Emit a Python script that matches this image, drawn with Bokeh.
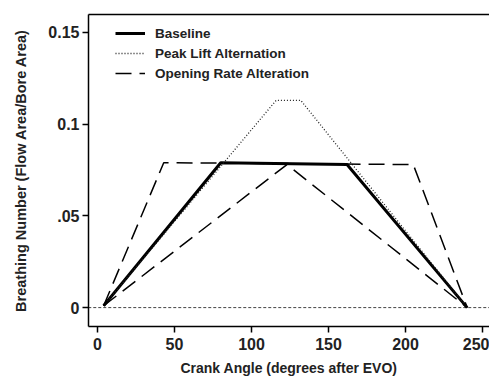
from bokeh.plotting import figure
from bokeh.models import Range1d, FixedTicker, Legend, LegendItem, LinearAxis
from bokeh.embed import file_html
from bokeh.resources import INLINE

# Data (crank angle in degrees after EVO, breathing number)
baseline_x = [4, 80, 162, 240]
baseline_y = [0.001, 0.079, 0.078, 0.0]

peak_x = [4, 116, 132, 240]
peak_y = [0.001, 0.113, 0.113, 0.0]

fast_x = [4, 43, 205, 240]
fast_y = [0.001, 0.079, 0.078, 0.0]

slow_x = [4, 123, 240]
slow_y = [0.001, 0.078, 0.0]

zero_x = [-6, 256]
zero_y = [0.0, 0.0]

x_ticks = [0, 50, 100, 150, 200, 250]
y_ticks = [0.0, 0.05, 0.1, 0.15]
y_tick_labels = {0.0: "0", 0.05: ".05", 0.1: "0.1", 0.15: "0.15"}

FONT = "Liberation Sans"

p = figure(width=489, height=379, output_backend="svg", toolbar_location=None,
           x_range=Range1d(-5.84, 254.5), y_range=Range1d(-0.0103, 0.1598),
           min_border_left=88, min_border_right=0, min_border_top=14, min_border_bottom=53)

p.xgrid.visible = False
p.ygrid.visible = False
p.outline_line_color = None

for ax in (p.xaxis, p.yaxis):
    ax.axis_line_color = "black"
    ax.axis_line_width = 1.5
    ax.major_tick_line_color = "black"
    ax.major_tick_line_width = 1.5
    ax.major_tick_out = 6
    ax.major_tick_in = 0
    ax.minor_tick_line_color = None
    ax.major_label_text_font = FONT
    ax.major_label_text_font_style = "bold"
    ax.major_label_text_font_size = "16px"
    ax.major_label_text_color = "#222222"
    ax.axis_label_text_font = FONT
    ax.axis_label_text_font_style = "bold"
    ax.axis_label_text_color = "#222222"

# top border of the frame as a bare axis line
top = LinearAxis(ticker=FixedTicker(ticks=[]), axis_line_color="black", axis_line_width=1.5,
                 major_tick_line_color=None, minor_tick_line_color=None,
                 major_label_text_font_size="0px", major_label_standoff=0)
p.add_layout(top, "above")

xax = p.below[0]
xax.axis_label_text_font_size = "14px"
p.yaxis.axis_label_text_font_size = "14.5px"

xax.ticker = FixedTicker(ticks=x_ticks)
p.yaxis.ticker = FixedTicker(ticks=y_ticks)
p.yaxis.major_label_overrides = y_tick_labels
xax.axis_label = "Crank Angle (degrees after EVO)"
p.yaxis.axis_label = "Breathing Number (Flow Area/Bore Area)"
xax.major_label_standoff = 5
xax.axis_label_standoff = 7
p.yaxis.major_label_standoff = 3
p.yaxis.axis_label_standoff = 16

p.line(zero_x, zero_y, line_color="#444444", line_width=1, line_dash="3 2")

r_base = p.line(baseline_x, baseline_y, line_color="black", line_width=3)
r_peak = p.line(peak_x, peak_y, line_color="#222222", line_width=1.3, line_dash="1 2")
r_fast = p.line(fast_x, fast_y, line_color="black", line_width=1.5, line_dash="16 8")
r_slow = p.line(slow_x, slow_y, line_color="black", line_width=1.5, line_dash="16 8")

legend = Legend(items=[
    LegendItem(label="Baseline", renderers=[r_base]),
    LegendItem(label="Peak Lift Alternation", renderers=[r_peak]),
    LegendItem(label="Opening Rate Alteration", renderers=[r_fast]),
], location=(27, 243))
legend.background_fill_alpha = 0
legend.border_line_color = None
legend.label_text_font = FONT
legend.label_text_font_style = "bold"
legend.label_text_font_size = "13.5px"
legend.label_text_color = "#222222"
legend.glyph_width = 30
legend.glyph_height = 20
legend.label_height = 20
legend.spacing = 0
legend.padding = 0
legend.margin = 0
legend.label_standoff = 10
p.add_layout(legend)

open("out.html", "w").write(file_html(p, INLINE))
